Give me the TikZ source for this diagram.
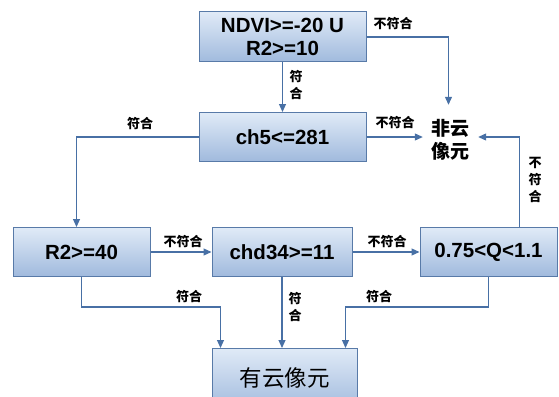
\documentclass[tikz,border=0pt]{standalone}
\usepackage{fontspec}
\setmainfont{Liberation Sans}
\newfontfamily\cjk{Noto Sans CJK SC}
\usetikzlibrary{arrows.meta,calc}

\definecolor{boxtop}{RGB}{224,234,247}
\definecolor{boxbot}{RGB}{160,186,221}
\definecolor{boxline}{RGB}{88,122,168}
\definecolor{wire}{RGB}{72,112,165}

\tikzset{
  flowbox/.style={draw=boxline, line width=1pt, top color=boxtop, bottom color=boxbot,
    inner sep=0pt, font=\bfseries\fontsize{20.5}{25}\selectfont, text=black},
  arr/.style={draw=wire, line width=1.1pt, -{Triangle[length=8pt,width=7pt]}},
  lbl/.style={font=\cjk\bfseries\fontsize{13}{17}\selectfont, inner sep=0pt, align=center},
}

\begin{document}
\begin{tikzpicture}[x=1pt,y=-1pt]
\useasboundingbox (0,0) rectangle (559,396);
\clip (0,0) rectangle (559,396);

% decision boxes
\node[flowbox, minimum width=167pt, minimum height=50pt, align=center,
      font=\bfseries\fontsize{20.5}{24}\selectfont] (ndvi) at (282.5,37)
      {NDVI>=-20 U\\[-1pt]R2>=10};
\node[flowbox, minimum width=167pt, minimum height=49pt] (ch5) at (282.5,137) {ch5<=281};
\node[flowbox, minimum width=137pt, minimum height=49pt] (r2) at (81.5,252) {R2>=40};
\node[flowbox, minimum width=140pt, minimum height=49pt] (chd) at (282,252) {chd34>=11};
\node[flowbox, minimum width=137pt, minimum height=49pt] (q) at (488.5,252) {0.75<Q<1.1};

% outcomes
\node[minimum width=55pt, minimum height=70pt, inner sep=0pt, align=center,
      font=\cjk\bfseries\fontsize{19}{23}\selectfont] (nonc) at (450.5,140) {非云\\像元};
\node[flowbox, minimum width=145pt, minimum height=62pt, anchor=north,
      font=\cjk\fontsize{22.5}{26}\selectfont] (cloud) at (284.5,348) {\raisebox{5pt}{有云像元}};

% connectors
\draw[arr] (ndvi.east) -- ++(82,0) coordinate (ndvitop) -- (ndvitop |- nonc.north);
\draw[arr] (ndvi.south) -- (ch5.north);
\draw[arr] (ch5.east) -- (ch5.east -| nonc.west);
\draw[arr] (ch5.west) -| ($(r2.north)+(-5,0)$);
\draw[arr] (r2.east) -- (chd.west);
\draw[arr] (chd.east) -- (q.west);
\draw[arr] ($(q.north)!0.45!(q.north east)$) coordinate (qtop) -- (qtop |- ch5.east) -- (ch5.east -| nonc.east);
\draw[arr] (r2.south) -- ++(0,30) -| ($(cloud.north west)+(9,0)$);
\draw[arr] (chd.south) -- (chd.south |- cloud.north);
\draw[arr] (q.south) -- ++(0,30) -| ($(cloud.north east)+(-12,0)$);

% branch labels
\node[lbl] (l1) at (393,24) {不符合};
\node[lbl] (l2) at (296,85) {符\\合};
\node[lbl] (l3) at (395,123) {不符合};
\node[lbl] (l4) at (140,124) {符合};
\node[lbl] (l5) at (535,180) {不\\符\\合};
\node[lbl] (l6) at (183,242) {不符合};
\node[lbl] (l7) at (387,242) {不符合};
\node[lbl] (l8) at (189,297) {符合};
\node[lbl] (l9) at (295,307) {符\\合};
\node[lbl] (l10) at (379,297) {符合};
\end{tikzpicture}
\end{document}
